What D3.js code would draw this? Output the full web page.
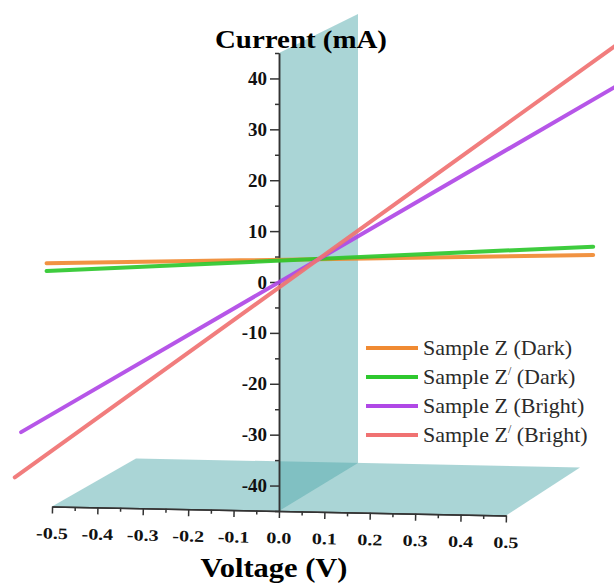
<!DOCTYPE html>
<html lang="en">
<head>
    <meta charset="UTF-8">
    <title>I-V</title>
    <style>
        body { margin: 0; background: #fff; }
    </style>
</head>
<script src="https://d3js.org/d3.v7.min.js" charset="utf-8"></script>

<body>
<script>
//    ########## data ##########
    var seriesNames = ["Sample Z (Dark)", "Sample Z/ (Dark)", "Sample Z (Bright)", "Sample Z/ (Bright)"];
    var seriesColors = ["#f08a32", "#2ec82e", "#b048e6", "#f07272"];

    // voltage (V) / current (mA) at the ends of each straight I-V line
    var voltZDark = [-0.512, 0.692],    curZDark = [3.67, 5.32];
    var voltZpDark = [-0.512, 0.692],   curZpDark = [2.16, 6.95];
    var voltZBright = [-0.568, 0.745],  curZBright = [-29.5, 38.6];
    var voltZpBright = [-0.582, 0.745], curZpBright = [-38.4, 46.7];

    var xMajor = [-0.5, -0.4, -0.3, -0.2, -0.1, 0.0, 0.1, 0.2, 0.3, 0.4, 0.5];
    var xMinor = [-0.45, -0.35, -0.25, -0.15, -0.05, 0.05, 0.15, 0.25, 0.35, 0.45];
    var yMajor = [-40, -30, -20, -10, 0, 10, 20, 30, 40];
    var yMinor = [-45, -35, -25, -15, -5, 5, 15, 25, 35, 45];

//    ########## layout ##########
    var width = 614, height = 583;
    var serif = "'Liberation Serif', 'Times New Roman', 'DejaVu Serif', serif";
    var tiltDeg = 1.15;                       // the voltage axis leans a little
    var tilt = Math.tan(tiltDeg * Math.PI / 180);

    var svg = d3.select("body")
            .append("svg")
            .attr("width", width)
            .attr("height", height)
            .attr("font-family", serif);

    var x = d3.scaleLinear().domain([-0.5, 0.5]).range([52, 506]);
    var y = d3.scaleLinear().domain([-45, 45]).range([511, 53]);

    // fake 3D: d = 0 front, d = 1 back
    function project(v, i, d, onFloor) {
        var px = x(v), py = y(i);
        if (onFloor) py += tilt * (px - x(0));
        return [px + d * (79 - 10 * v), py + d * (-43.5 + 0.1 * i)];
    }

    var floorPts = [
        project(-0.5, -45, 0, true), project(0.5, -45, 0, true),
        project(0.5, -45, 1, true), project(-0.5, -45, 1, true)
    ];
    var wallPts = [
        project(0, 45, 0), project(0, 45, 1),
        project(0, -45, 1), project(0, -45, 0)
    ];

    var planes = svg.append("g");
    [floorPts, wallPts].forEach(function (pts) {
        planes.append("polygon")
            .attr("points", pts.map(function (p) { return p.join(","); }).join(" "))
            .attr("fill", "rgb(85,171,173)")
            .attr("fill-opacity", 0.5);
    });

//    ########## axes ##########
    function minus(s) { return s.replace("\u2212", "-"); }

    var gy = svg.append("g").attr("transform", "translate(" + x(0) + ",0)");
    gy.append("g")
        .call(d3.axisLeft(y).tickValues(yMinor).tickSize(4).tickSizeOuter(0).tickFormat(""));
    gy.append("g")
        .call(d3.axisLeft(y).tickValues(yMajor).tickSize(9).tickPadding(3).tickSizeOuter(0)
            .tickFormat(function (d) { return minus(String(d)); }));

    var gx = svg.append("g")
        .attr("transform", "rotate(" + tiltDeg + "," + x(0) + "," + y(-45) + ") translate(0," + y(-45) + ")");
    gx.append("g")
        .call(d3.axisBottom(x).tickValues(xMinor).tickSize(4).tickSizeOuter(0).tickFormat(""));
    gx.append("g")
        .call(d3.axisBottom(x).tickValues(xMajor).tickSize(7).tickPadding(14).tickSizeOuter(0)
            .tickFormat(function (d) { return minus(d.toFixed(1)); }));

    // d3 axes put font-family="sans-serif" on their groups, undo that
    svg.selectAll("g").attr("font-family", serif);
    svg.selectAll(".domain, .tick line")
        .attr("stroke", "#333")
        .attr("stroke-width", 1.5);
    gy.selectAll("text")
        .attr("font-size", 19)
        .attr("font-weight", "bold")
        .attr("fill", "#111");
    gx.selectAll("text")
        .attr("font-size", 16)
        .attr("font-weight", "bold")
        .attr("fill", "#111")
        .attr("transform", "scale(1.25,1)");

    svg.append("text")
        .attr("x", 301).attr("y", 48)
        .attr("text-anchor", "middle")
        .attr("font-family", serif)
        .attr("font-size", 25).attr("font-weight", "bold")
        .attr("textLength", 172).attr("lengthAdjust", "spacingAndGlyphs")
        .text("Current (mA)");

    svg.append("text")
        .attr("x", 274).attr("y", 577)
        .attr("text-anchor", "middle")
        .attr("font-family", serif)
        .attr("font-size", 28).attr("font-weight", "bold")
        .attr("textLength", 147).attr("lengthAdjust", "spacingAndGlyphs")
        .text("Voltage (V)");

//    ########## lines ##########
    var volts = [voltZDark, voltZpDark, voltZBright, voltZpBright];
    var curs = [curZDark, curZpDark, curZBright, curZpBright];

    var line = d3.line()
        .x(function (d) { return x(d[0]); })
        .y(function (d) { return y(d[1]); });

    seriesNames.forEach(function (name, k) {
        svg.append("path")
            .datum(d3.zip(volts[k], curs[k]))
            .attr("d", line)
            .attr("fill", "none")
            .attr("stroke", seriesColors[k])
            .attr("stroke-width", 4)
            .attr("stroke-linecap", "round")
            .attr("opacity", 0.92);
    });

//    ########## legend ##########
    var legend = svg.append("g").attr("transform", "translate(366,348)");
    seriesNames.forEach(function (name, k) {
        var row = legend.append("g").attr("transform", "translate(0," + (k * 29) + ")");
        row.append("line")
            .attr("x1", 0).attr("x2", 52)
            .attr("stroke", seriesColors[k])
            .attr("stroke-width", 4);
        var t = row.append("text")
            .attr("x", 57).attr("y", 7)
            .attr("font-family", serif)
            .attr("font-size", 22)
            .attr("fill", "#2b2b2b");
        var parts = name.split("/");
        t.append("tspan").text(parts[0]);
        if (parts.length > 1) {
            // Z-prime: small raised slash
            t.append("tspan").attr("font-size", 12).attr("dy", -9).text("/");
            t.append("tspan").attr("dy", 9).text(parts[1]);
        }
    });
</script>
</body>
</html>
